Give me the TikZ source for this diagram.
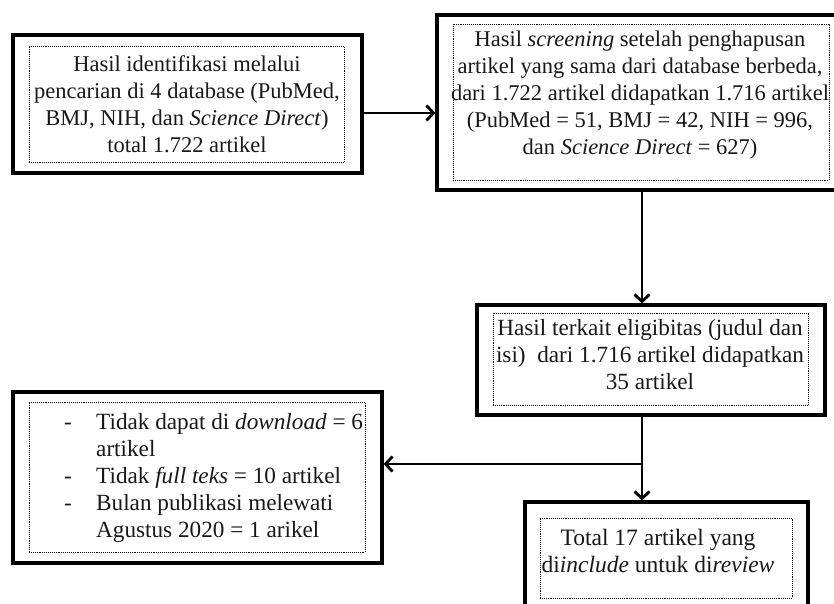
\documentclass[tikz,border=0pt]{standalone}
\usepackage{fontspec}
\setmainfont{Liberation Serif}
\usetikzlibrary{arrows.meta,fit}
\begin{document}
\begin{tikzpicture}[x=1pt,y=-1pt,
 box/.style={draw, line width=3.2pt, inner sep=0pt, fill=white},
 dotbox/.style={draw, densely dotted, line width=0.9pt, inner sep=0pt},
 txt/.style={align=center, inner sep=0pt, font=\fontsize{22.5}{27}\selectfont, text=black!90},
 big/.style={font=\fontsize{23.2}{27}\selectfont},
 arr/.style={line width=2.8pt, -{Straight Barb[length=7pt,width=15pt,line width=2.8pt]}},
 ln/.style={line width=2.8pt}]
\useasboundingbox (0,0) rectangle (834,603);
\clip (0,0) rectangle (834,603);
% box 1
\node[box, fit={(13,35) (362,173)}] (b1) {};
\node[dotbox, fit={(29,46) (344,162)}] (d1) {};
\node[txt] (t1) at (187,104) {Hasil identifikasi melalui\\pencarian di 4 database (PubMed,\\BMJ, NIH, dan \textit{Science Direct})\\total 1.722 artikel};
% box 2
\node[box, fit={(437,15) (846,190)}] (b2) {};
\node[dotbox, fit={(453,24) (829,180)}] (d2) {};
\node[txt] (t2) at (640,95) {Hasil \textit{screening} setelah penghapusan\\artikel yang sama dari database berbeda,\\dari 1.722 artikel didapatkan 1.716 artikel\\(PubMed = 51, BMJ = 42, NIH = 996,\\dan \textit{Science Direct} = 627)};
% box 3
\node[box, fit={(477,305) (825,415)}] (b3) {};
\node[dotbox, fit={(493,313) (808,405)}] (d3) {};
\node[txt, big] (t3) at (650,355) {Hasil terkait eligibitas (judul dan\\isi)\ \ dari 1.716 artikel didapatkan\\35 artikel};
% box 4 (left)
\node[box, fit={(13,392) (382,563)}] (b4) {};
\node[dotbox, fit={(29,402) (365,552)}] (d4) {};
\node[txt, big, align=left, anchor=west] (t4) at (64,478) {\makebox[32pt][l]{-}Tidak dapat di \textit{download} = 6\\
\hspace*{32pt}artikel\\
\makebox[32pt][l]{-}Tidak \textit{full teks} = 10 artikel\\
\makebox[32pt][l]{-}Bulan publikasi melewati\\
\hspace*{32pt}Agustus 2020 = 1 arikel};
% box 5
\node[box, fit={(525,502) (808,614)}] (b5) {};
\node[dotbox, fit={(540,518) (792,598)}] (d5) {};
\node[txt, font=\fontsize{23.5}{27}\selectfont] (t5) at (658,551) {Total 17 artikel yang\\di\textit{include} untuk di\textit{review}};
% connectors
\coordinate (y1) at (0,113);
\coordinate (vx) at (642,0);
\coordinate (br) at (642,464);
\draw[arr] (b1.east |- y1) -- (b2.west |- y1);
\draw[arr] (b2.south -| vx) -- (b3.north -| vx);
\draw[ln] (b3.south -| vx) -- (br);
\draw[arr] (br) -- (b4.east |- br);
\draw[arr] (br) -- (b5.north -| br);
\end{tikzpicture}
\end{document}
